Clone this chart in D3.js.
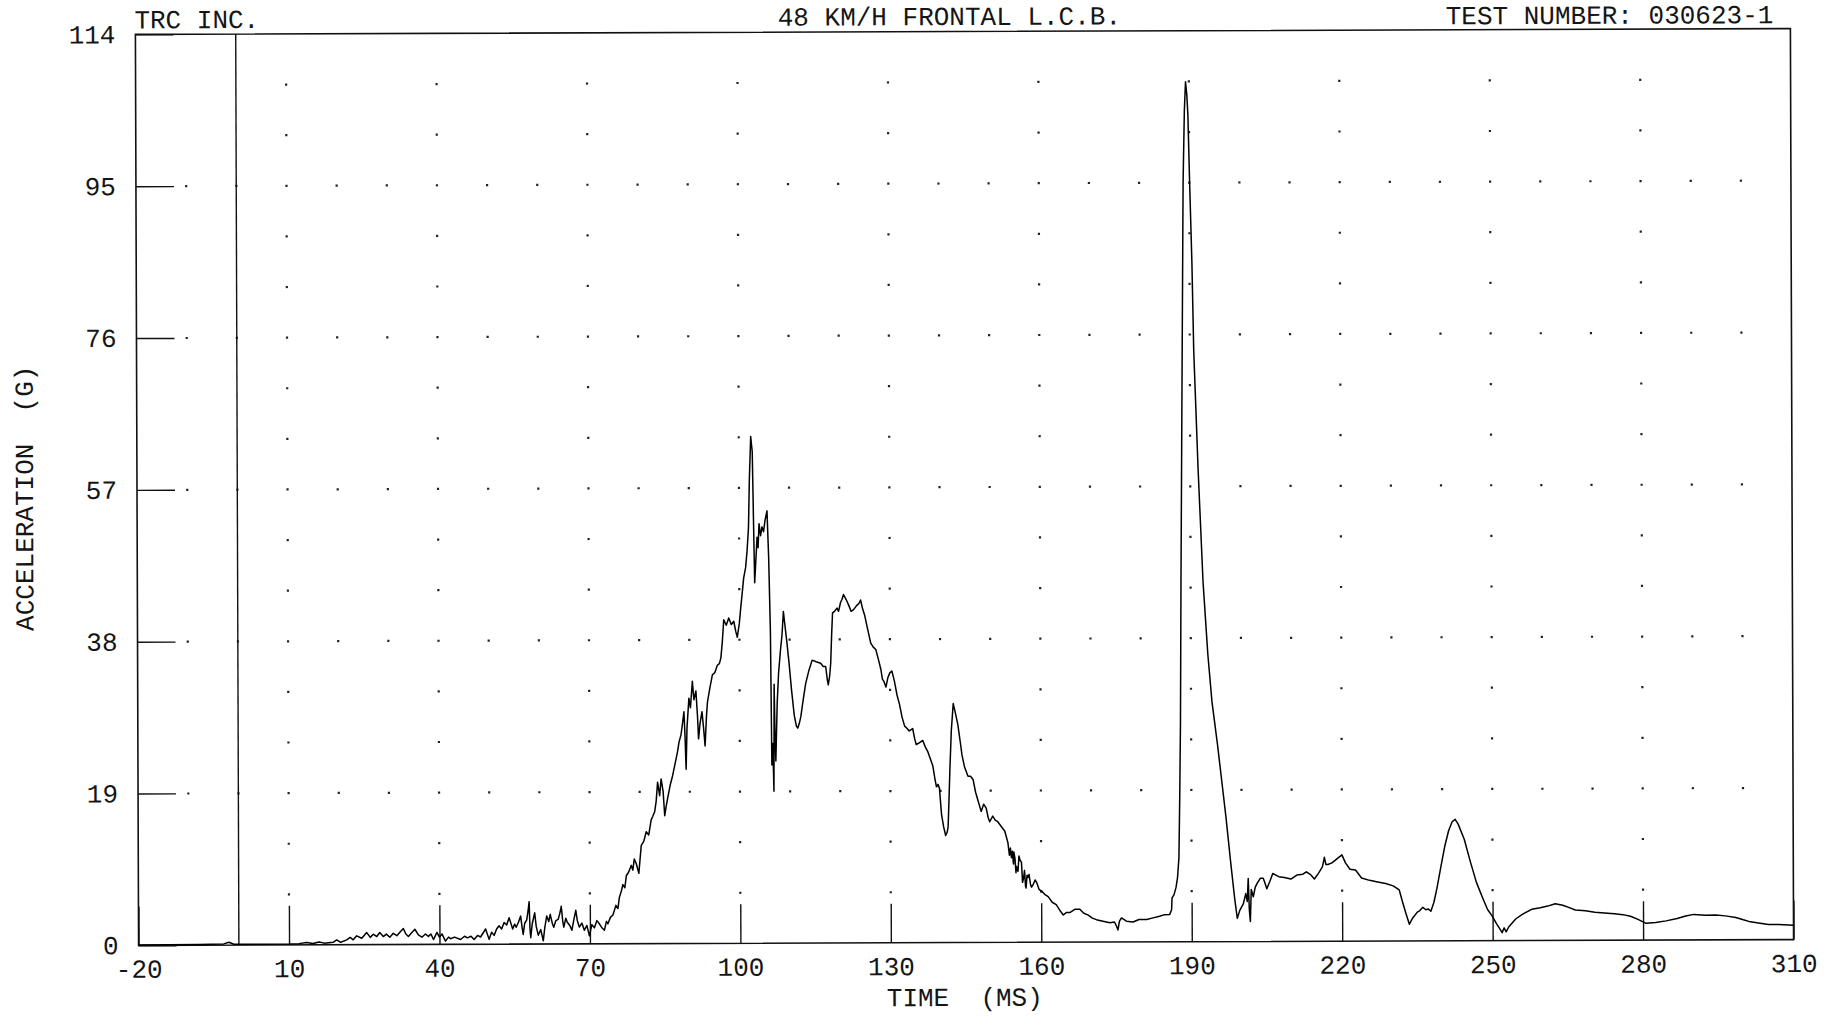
<!DOCTYPE html>
<html>
<head>
<meta charset="utf-8">
<script src="https://cdn.jsdelivr.net/npm/d3@7"></script>
<style>
  html, body { margin: 0; padding: 0; background: #fff; }
  svg { display: block; }
  text { font-family: "Liberation Mono", "DejaVu Sans Mono", monospace; font-size: 26px; fill: #151515; white-space: pre; }
</style>
</head>
<body>
<svg id="chart" width="1837" height="1016"></svg>
<script>
const headerLeft = "TRC INC.";
const headerTitle = "48 KM/H FRONTAL L.C.B.";
const headerRight = "TEST NUMBER: 030623-1";
const xLabel = "TIME  (MS)";
const yLabel = "ACCELERATION  (G)";

const xTickValues = [-20, 10, 40, 70, 100, 130, 160, 190, 220, 250, 280, 310];
const yTickValues = [0, 19, 38, 57, 76, 95, 114];

// time (ms) and acceleration (G)
const timeMs = [
  -20, -8, -3, -2, -1, 5, 10, 12, 13.5, 14.8,
  16, 17, 18.8, 19.5, 20.3, 21.5, 22.2, 22.8, 23.5, 24.5,
  25.5, 26.2, 26.8, 27.5, 28.1, 28.8, 29.4, 30.1, 30.8, 31.5,
  32.2, 32.8, 33.3, 33.8, 34.5, 35.1, 35.8, 36.5, 37.2, 37.8,
  38.3, 38.8, 39.5, 40.0, 40.5, 41.2, 41.8, 42.2, 43.0, 44.2,
  45.0, 45.6, 46.3, 46.9, 47.6, 48.2, 48.7, 49.2, 49.9, 50.4,
  50.9, 51.4, 51.9, 52.4, 52.9, 53.4, 53.9, 54.3, 54.6, 55.0,
  55.3, 55.8, 56.2, 56.5, 56.7, 57.0, 57.4, 57.7, 57.9, 58.05,
  58.2, 58.5, 59.0, 59.3, 59.7, 60.2, 60.7, 61.0, 61.4, 61.8,
  62.1, 62.5, 62.8, 63.2, 63.7, 64.0, 64.3, 64.6, 64.8, 65.2,
  65.5, 66.0, 66.4, 66.8, 67.2, 67.5, 67.9, 68.4, 68.9, 69.4,
  69.9, 70.4, 70.9, 71.4, 71.9, 72.4, 72.9, 73.3, 73.6, 74.1,
  74.6, 75.2, 75.6, 75.9, 76.3, 76.6, 77.0, 77.3, 77.8, 78.3,
  78.6, 78.9, 79.3, 79.8, 80.3, 80.8, 81.3, 81.8, 82.3, 82.6,
  83.0, 83.3, 83.6, 84.0, 84.3, 84.7, 85.0, 85.3, 85.6, 86.1,
  86.6, 87.1, 87.6, 87.9, 88.3, 88.6, 88.9, 89.1, 89.3, 89.5,
  89.9, 90.2, 90.6, 90.9, 91.3, 91.6, 91.8, 92.1, 92.5, 92.8,
  93.1, 93.4, 93.6, 94.1, 94.6, 95.1, 95.6, 96.0, 96.3, 96.6,
  96.9, 97.4, 97.9, 98.4, 98.9, 99.3, 99.6, 100.0, 100.3, 100.6,
  100.9, 101.3, 101.6, 101.9, 102.1, 102.4, 102.7, 102.9, 103.1, 103.4,
  103.6, 103.8, 104.0, 104.3, 104.6, 104.9, 105.2, 105.6, 105.9, 106.2,
  106.4, 106.6, 106.8, 106.9, 107.05, 107.2, 107.5, 107.8, 108.2, 108.5,
  108.8, 109.2, 109.5, 109.9, 110.4, 110.9, 111.3, 111.6, 111.9, 112.2,
  112.7, 113.2, 113.8, 114.5, 115.3, 116.2, 116.7, 117.2, 117.5, 117.7,
  118.0, 118.2, 118.4, 118.6, 119.0, 119.5, 119.8, 120.2, 120.5, 120.8,
  121.3, 121.8, 122.3, 122.8, 123.4, 123.9, 124.2, 124.6, 125.0, 125.5,
  126.2, 126.7, 127.2, 127.7, 128.2, 128.5, 128.8, 129.2, 129.6, 130.0,
  130.4, 130.9, 131.4, 131.9, 132.4, 132.9, 133.4, 133.8, 134.5, 134.9,
  135.2, 135.8, 136.5, 137.0, 137.5, 138.0, 138.5, 138.9, 139.2, 139.5,
  139.8, 140.2, 140.6, 141.0, 141.3, 141.5, 141.7, 141.9, 142.2, 142.6,
  143.0, 143.5, 144.0, 144.3, 144.8, 145.5, 146.0, 146.5, 147.0, 147.5,
  148.1, 148.6, 149.1, 149.5, 149.8, 150.4, 150.9, 151.4, 152.1, 152.8,
  153.4, 153.7, 153.9, 154.1, 154.3, 154.5, 154.6, 154.8, 155.0, 155.1,
  155.4, 155.6, 155.8, 156.1, 156.3, 156.5, 156.7, 156.9, 157.0, 157.2,
  157.4, 157.6, 157.9, 158.1, 158.4, 158.8, 159.1, 159.6, 160.1, 160.7,
  161.4, 162.2, 163.0, 163.7, 164.4, 165.0, 165.7, 166.7, 167.7, 168.5, 169.3,
  170.2, 171.0, 172.3, 173.7, 174.6, 175.0, 175.3, 175.6, 176.0, 177.0,
  178.3, 179.5, 181.0, 182.3, 183.6, 184.6, 185.6, 186.0, 186.1, 186.5,
  186.9, 187.2, 187.5, 187.7, 187.9, 188.1, 188.5, 188.8, 189.1, 189.35,
  189.6, 189.8, 190.1, 190.5, 190.8, 191.6, 192.5, 193.4, 194.2, 195.3,
  196.2, 196.9, 197.8, 198.6, 199.1, 199.6, 200.3, 200.8, 201.1, 201.3,
  201.5, 201.7, 201.9, 202.3, 202.7, 203.1, 203.7, 204.3, 204.7, 205.0,
  205.6, 206.2, 206.8, 207.4, 208.5, 209.8, 211.0, 212.2, 212.9, 213.8,
  214.5, 215.3, 216.1, 216.5, 216.8, 217.2, 218.0, 219.0, 220.0, 220.7,
  221.6, 222.7, 223.9, 225.5, 227.1, 228.7, 230.2, 231.4, 232.0, 232.7,
  233.4, 234.0, 235.0, 235.5, 236.1, 236.7, 237.2, 237.7, 238.3, 238.9,
  239.7, 240.5, 241.3, 242.0, 242.6, 243.2, 244.4, 245.6, 246.8, 248.0,
  249.0, 249.9, 250.8, 251.5, 251.9, 252.3, 252.7, 253.2, 254.6, 256.0,
  257.8, 259.5, 261.0, 262.5, 264.0, 265.3, 266.5, 268.5, 270.4, 272.3,
  274.3, 276.0, 277.5, 279.0, 280.6, 282.5, 284.6, 286.8, 288.5, 290.1,
  292.5, 294.5, 296.4, 298.5, 300.0, 301.1, 303.0, 305.0, 307.0, 310.0
];
const accelG = [
  0.05, 0.1, 0.15, 0.35, 0.1, 0.1, 0.1, 0.15, 0.3, 0.15,
  0.35, 0.2, 0.3, 0.6, 0.3, 0.6, 0.9, 0.6, 1.1, 0.8,
  1.5, 0.9, 1.3, 1.0, 1.5, 1.0, 1.3, 0.9, 1.4, 1.1,
  1.6, 2.0, 1.3, 1.0, 1.5, 1.9, 1.2, 0.9, 1.3, 1.0,
  1.3, 0.6, 1.5, 0.9, 1.3, 0.4, 0.9, 0.7, 0.9, 0.6,
  1.0, 0.8, 1.0, 0.6, 1.1, 0.9, 1.4, 1.9, 0.6, 1.5,
  1.1, 1.9, 2.3, 1.9, 2.7, 2.4, 3.3, 2.5, 1.9, 2.5,
  2.1, 2.8, 3.5, 2.0, 1.2, 2.6, 3.0, 4.2, 5.3, 2.0,
  0.8, 2.5, 3.9, 2.2, 1.1, 1.8, 0.4, 2.0, 3.5, 2.8,
  3.7, 2.6, 2.1, 2.9, 3.1, 3.8, 4.7, 2.8, 2.1, 3.2,
  2.7, 2.3, 1.7, 3.0, 4.2, 2.9, 2.1, 2.6, 1.7, 2.3,
  1.0, 2.4, 2.0, 2.9, 2.5, 2.0, 1.7, 2.8, 2.5, 3.3,
  3.6, 4.8, 4.4, 5.8, 6.6, 7.4, 7.0, 8.5, 9.0, 9.8,
  9.2, 10.6, 10.0, 8.8, 12.3, 12.8, 14.0, 13.6, 15.5, 15.9,
  16.5, 17.8, 20.2, 18.5, 20.6, 19.0, 16.0, 17.2, 18.2, 19.8,
  21.0, 22.5, 24.0, 25.2, 26.1, 27.5, 29.0, 26.0, 21.8, 27.0,
  30.7, 29.5, 32.8, 30.5, 31.6, 28.5, 25.6, 27.5, 29.0, 27.0,
  24.7, 28.5, 30.2, 32.0, 33.6, 33.9, 34.8, 35.0, 35.7, 37.7,
  40.5, 39.8, 40.7, 39.9, 40.3, 39.0, 38.3, 40.0, 42.0, 43.8,
  45.7, 47.0, 49.1, 52.0, 57.9, 63.4, 61.5, 53.0, 45.1, 48.5,
  50.8, 49.5, 52.5, 51.0, 52.1, 51.5, 52.9, 54.1, 48.3, 39.0,
  22.3, 25.0, 19.0, 32.4, 26.0, 22.8, 30.0, 33.8, 36.7, 38.5,
  41.5, 39.2, 37.5, 35.0, 31.5, 28.5, 27.2, 26.9, 27.5, 28.3,
  30.5, 32.5, 34.0, 35.4, 35.2, 35.0, 34.6, 34.6, 33.0, 32.3,
  33.5, 35.0, 38.5, 41.3, 41.5, 41.9, 41.5, 42.6, 43.0, 43.6,
  43.0, 42.3, 41.5, 41.7, 42.2, 42.5, 42.9, 41.8, 41.0, 39.5,
  37.5, 37.0, 36.7, 35.5, 34.2, 33.0, 32.7, 32.0, 33.2, 33.8,
  34.0, 32.7, 31.0, 29.8, 28.2, 27.1, 26.8, 26.5, 26.8, 25.5,
  24.8, 25.0, 25.3, 24.5, 23.9, 23.0, 22.1, 20.5, 19.5, 19.8,
  19.3, 16.0, 14.5, 13.4, 13.8, 14.5, 18.0, 21.8, 26.5, 29.9,
  28.8, 27.3, 25.0, 23.5, 22.0, 20.8, 20.8, 20.4, 18.8, 17.7,
  16.4, 17.3, 16.8, 15.6, 15.1, 15.8, 15.3, 15.1, 14.5, 13.9,
  12.5, 10.9, 11.8, 10.6, 11.4, 9.8, 11.3, 10.5, 8.7, 9.5,
  8.9, 10.8, 10.3, 10.0, 7.5, 8.0, 9.0, 7.0, 6.8, 8.4,
  8.1, 8.5, 7.2, 6.9, 7.2, 7.8, 7.5, 6.6, 6.4, 6.0,
  5.7, 5.0, 4.7, 4.0, 3.4, 3.7, 3.7, 4.1, 4.1, 3.6, 3.4,
  3.0, 2.8, 2.6, 2.4, 2.5, 2.0, 1.5, 2.6, 3.0, 2.6,
  2.5, 2.8, 2.8, 3.0, 3.2, 3.4, 3.4, 4.0, 5.5, 5.9,
  6.8, 8.0, 10.5, 18.0, 27.3, 45.0, 74.0, 95.0, 104.0, 107.6,
  106.0, 103.5, 95.0, 85.0, 74.0, 59.0, 45.0, 36.0, 30.0, 24.5,
  19.5, 15.6, 10.0, 5.3, 2.9, 3.9, 4.7, 6.0, 5.0, 7.9,
  4.0, 2.5, 6.5, 5.6, 6.8, 7.3, 7.9, 7.9, 7.2, 6.6,
  7.5, 8.5, 8.3, 8.1, 8.0, 7.8, 8.3, 8.4, 8.7, 8.3,
  7.8, 8.5, 9.3, 10.5, 9.6, 9.6, 9.8, 10.3, 10.8, 9.8,
  9.0, 8.9, 7.9, 7.6, 7.4, 7.2, 6.9, 6.4, 5.0, 3.5,
  2.1, 2.8, 3.6, 3.8, 4.2, 3.9, 4.0, 3.7, 4.8, 6.5,
  9.2, 11.8, 13.8, 14.9, 15.2, 14.6, 12.7, 9.9, 7.3, 5.4,
  3.9, 3.1, 2.1, 1.4, 1.0, 1.6, 1.1, 1.7, 2.7, 3.3,
  3.9, 4.1, 4.3, 4.6, 4.4, 4.1, 3.8, 3.7, 3.5, 3.4,
  3.3, 3.2, 3.0, 2.6, 2.1, 2.2, 2.4, 2.7, 3.0, 3.2,
  3.1, 3.1, 3.0, 2.8, 2.5, 2.3, 2.1, 1.9, 1.9, 1.8
];

const width = 1837, height = 1016;
const margin = { top: 31.5, right: 45, bottom: 73.5, left: 137 };

const x = d3.scaleLinear().domain([-20, 310]).range([margin.left, width - margin.right]);
const y = d3.scaleLinear().domain([0, 114]).range([height - margin.bottom, margin.top]);

const svg = d3.select("#chart");
// the scanned sheet sits a little crooked
const g = svg.append("g").attr("transform", "rotate(-0.2, 965, 489)");

// dot grid: every 10 ms on the labelled rows, every third of a step at the labelled columns
const dotCols = d3.range(-10, 301, 10);
const dotRows = d3.range(1, 18).map(k => k * 19 / 3);
const dots = [];
dotRows.forEach((r, i) => {
  const major = (i + 1) % 3 === 0;
  dotCols.forEach(c => {
    if (major || (c - 10) % 30 === 0) dots.push([c, r]);
  });
});
g.append("g").selectAll("rect").data(dots).join("rect")
  .attr("x", d => x(d[0]) - 1).attr("y", d => y(d[1]) - 1)
  .attr("width", 2.2).attr("height", 2.2).attr("fill", "#222");

// axes with inward ticks
const xAxis = g.append("g").attr("transform", `translate(0,${y(0)})`)
  .call(d3.axisBottom(x).tickValues(xTickValues).tickFormat(d => String(d))
    .tickSizeInner(-39).tickSizeOuter(0).tickPadding(14));
xAxis.select(".domain").remove();

const yAxis = g.append("g").attr("transform", `translate(${x(-20)},0)`)
  .call(d3.axisLeft(y).tickValues(yTickValues).tickFormat(d => String(d))
    .tickSizeInner(-38).tickSizeOuter(0).tickPadding(20));
yAxis.select(".domain").remove();

g.selectAll(".tick line").attr("stroke", "#111").attr("stroke-width", 1.4);
g.selectAll(".tick text").attr("fill", "#151515");

// frame and the zero-time line
g.append("rect")
  .attr("x", x(-20)).attr("y", y(114))
  .attr("width", x(310) - x(-20)).attr("height", y(0) - y(114))
  .attr("fill", "none").attr("stroke", "#111").attr("stroke-width", 1.6);
g.append("line")
  .attr("x1", x(0)).attr("x2", x(0)).attr("y1", y(0)).attr("y2", y(114))
  .attr("stroke", "#111").attr("stroke-width", 1.4);

// the trace
const line = d3.line().x((d, i) => x(timeMs[i])).y(d => y(d));
g.append("path").datum(accelG)
  .attr("d", line)
  .attr("fill", "none").attr("stroke", "#000").attr("stroke-width", 1.5)
  .attr("stroke-linejoin", "round");

// texts
g.append("text").attr("x", 136).attr("y", 25.5).text(headerLeft);
g.append("text").attr("x", 951).attr("y", 25).attr("text-anchor", "middle").text(headerTitle);
g.append("text").attr("x", 1775).attr("y", 26).attr("text-anchor", "end").text(headerRight);
g.append("text").attr("x", 963).attr("y", 1006).attr("text-anchor", "middle").text(xLabel);
g.append("text").attr("text-anchor", "middle")
  .attr("transform", "translate(33,495) rotate(-90)").text(yLabel);
</script>
</body>
</html>
